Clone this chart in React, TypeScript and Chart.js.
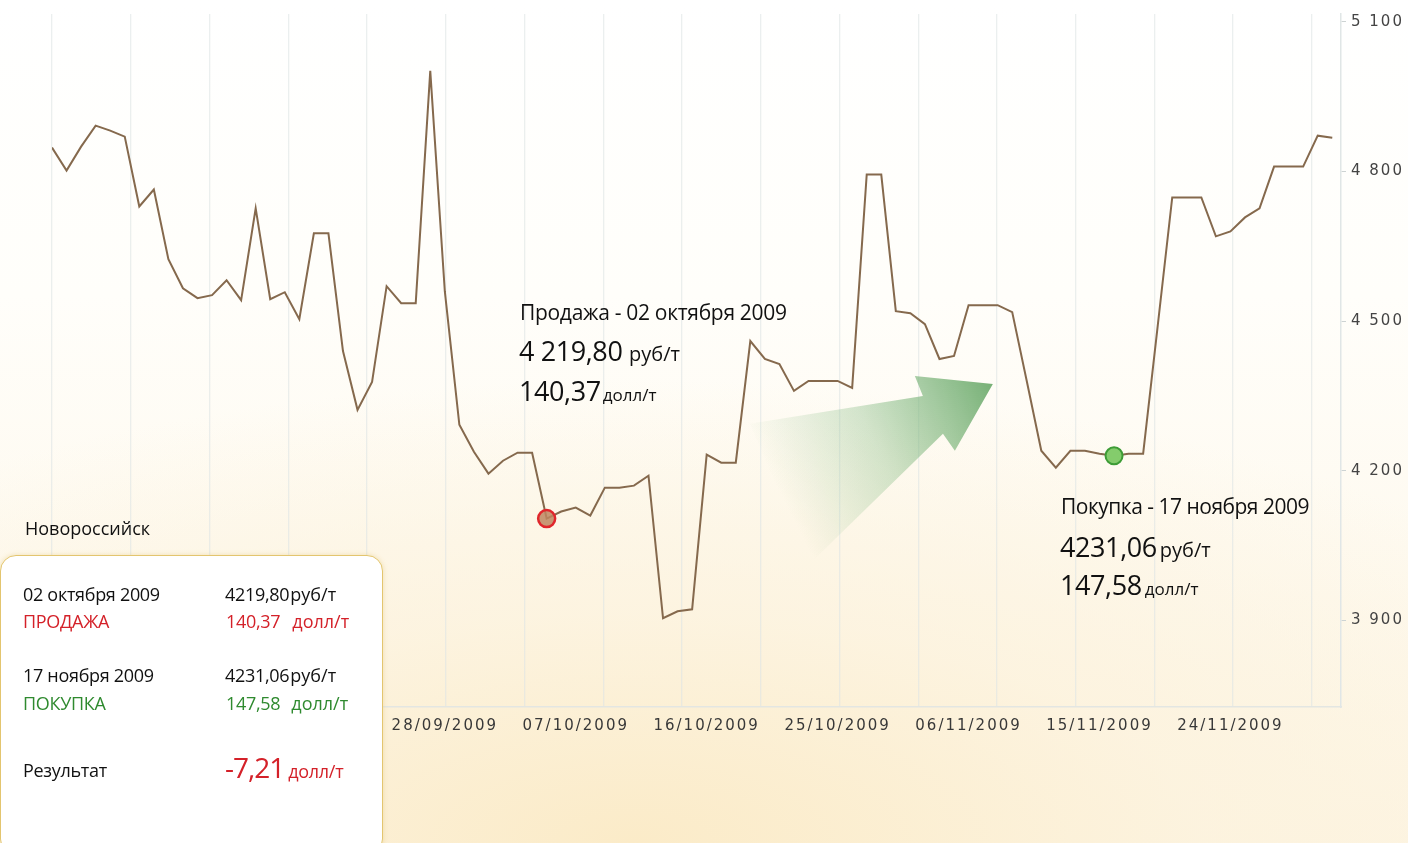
import React, { useEffect, useRef } from 'react';
import { Chart, registerables } from 'chart.js';

Chart.register(...registerables);

// Daily price series (руб/т), Novorossiysk
const PRICES: number[] = [
  4848, 4802, 4850, 4892, 4882, 4870, 4730, 4764, 4624, 4566,
  4546, 4552, 4582, 4542, 4726, 4544, 4558, 4504, 4676, 4676,
  4440, 4322, 4378, 4570, 4536, 4536, 5002, 4560, 4292, 4238,
  4194, 4220, 4236, 4236, 4104, 4118, 4126, 4110, 4166, 4166,
  4170, 4190, 3904, 3918, 3922, 4232, 4216, 4216, 4460, 4424,
  4414, 4360, 4380, 4380, 4380, 4366, 4794, 4794, 4520, 4516,
  4494, 4424, 4430, 4532, 4532, 4532, 4518, 4380, 4240, 4206,
  4240, 4240, 4234, 4230, 4234, 4234, 4490, 4748, 4748, 4748,
  4670, 4680, 4708, 4726, 4810, 4810, 4810, 4872, 4868,
];

const X_TICK_INDEX: number[] = [27, 36, 45, 54, 63, 72, 81];
const X_TICK_LABELS: string[] = [
  '28/09/2009', '07/10/2009', '16/10/2009', '25/10/2009', '06/11/2009', '15/11/2009', '24/11/2009',
];
const Y_TICKS: number[] = [3900, 4200, 4500, 4800, 5100];

const SELL_INDEX = 34;
const BUY_INDEX = 73;

// Axis extents
const X_MAX = 88.6;
const GRID_MAX = 16.37;
const Y_MIN = 3726;
const Y_MAX = 5116;

// Decorative arrow, in data units (index, price)
const ARROW: number[][] = [
  [64.67, 4374],
  [59.31, 4390],
  [59.86, 4350],
  [47.97, 4294],
  [52.1, 4014],
  [61.24, 4274],
  [62.06, 4240],
];

const W = 1408;
const H = 843;
const FONT = "'Open Sans', 'Noto Sans', sans-serif";
const RED = '#d42129';
const GREEN = '#2f8a2f';

const arrowPlugin = {
  id: 'arrowDeco',
  beforeDatasetsDraw(chart: any) {
    const { ctx, scales } = chart;
    const x = scales.x;
    const y = scales.y;
    const pts = ARROW.map(([i, v]) => [x.getPixelForValue(i), y.getPixelForValue(v)]);
    const tail = [(pts[3][0] + pts[4][0]) / 2, (pts[3][1] + pts[4][1]) / 2];
    const tip = pts[0];
    const g = ctx.createLinearGradient(tail[0], tail[1], tip[0], tip[1]);
    g.addColorStop(0, 'rgba(125,185,125,0)');
    g.addColorStop(0.45, 'rgba(120,180,120,0.32)');
    g.addColorStop(1, 'rgba(100,165,100,0.88)');
    ctx.save();
    ctx.beginPath();
    pts.forEach(([px, py], k) => (k ? ctx.lineTo(px, py) : ctx.moveTo(px, py)));
    ctx.closePath();
    ctx.fillStyle = g;
    ctx.fill();
    ctx.restore();
  },
};

const spacingPlugin = {
  id: 'letterSpacing',
  beforeDraw(chart: any) {
    (chart.ctx as any).letterSpacing = '2px';
  },
  afterDraw(chart: any) {
    (chart.ctx as any).letterSpacing = '0px';
  },
};

function T(props: {
  x: number;
  base: number;
  size: number;
  color?: string;
  ls?: number;
  children: React.ReactNode;
}) {
  const { x, base, size, color = '#111', ls = 0, children } = props;
  return (
    <div
      style={{
        position: 'absolute',
        left: x,
        top: base - 0.888 * size,
        fontSize: size,
        lineHeight: 1,
        color,
        letterSpacing: ls,
        whiteSpace: 'nowrap',
        fontFamily: FONT,
      }}
    >
      {children}
    </div>
  );
}

function S(props: { size: number; ml?: number; ls?: number; children: React.ReactNode }) {
  return (
    <span style={{ fontSize: props.size, marginLeft: props.ml ?? 0, letterSpacing: props.ls ?? 0 }}>
      {props.children}
    </span>
  );
}

export default function App() {
  const ref = useRef<HTMLCanvasElement | null>(null);

  useEffect(() => {
    document.body.style.margin = '0';
    const canvas = ref.current;
    if (!canvas) return;
    const fmt = (v: number) => String(v).replace(/\B(?=(\d{3})+(?!\d))/g, ' ');
    const chart = new Chart(canvas, {
      type: 'line',
      data: {
        datasets: [
          {
            data: PRICES.map((v, i) => ({ x: i, y: v })),
            borderColor: '#85694d',
            borderWidth: 2,
            pointRadius: 0,
            tension: 0,
            fill: false,
            order: 2,
          },
          {
            data: [{ x: SELL_INDEX, y: PRICES[SELL_INDEX] }],
            showLine: false,
            pointRadius: 8.5,
            pointBackgroundColor: 'rgba(190,134,96,0.85)',
            pointBorderColor: '#e0262c',
            pointBorderWidth: 2.5,
            order: 0,
          },
          {
            data: [{ x: BUY_INDEX, y: PRICES[BUY_INDEX] }],
            showLine: false,
            pointRadius: 8.5,
            pointBackgroundColor: '#84cc6c',
            pointBorderColor: '#3d9c36',
            pointBorderWidth: 2,
            order: 1,
          },
        ],
      },
      options: {
        animation: false,
        responsive: false,
        layout: { padding: { left: 52, top: 12, right: 0, bottom: 0 } },
        plugins: { legend: { display: false }, tooltip: { enabled: false } },
        scales: {
          x: {
            type: 'linear',
            position: 'bottom',
            min: 0,
            max: X_MAX,
            afterBuildTicks: (s: any) => {
              s.ticks = X_TICK_INDEX.map((v) => ({ value: v }));
            },
            afterFit: (s: any) => {
              s.height = H - 707;
            },
            ticks: {
              autoSkip: false,
              maxRotation: 0,
              padding: 10,
              color: '#383838',
              font: { family: 'DejaVu Sans', size: 15 },
              callback: (v: any) => {
                const k = X_TICK_INDEX.indexOf(Number(v));
                return k >= 0 ? X_TICK_LABELS[k] : '';
              },
            },
            grid: { display: false, drawTicks: false },
            border: { display: true, color: '#e3e6e2', width: 1.5 },
          },
          xg: {
            type: 'linear',
            position: 'bottom',
            min: 0,
            max: GRID_MAX,
            afterFit: (s: any) => {
              s.height = 0;
            },
            ticks: { display: false, stepSize: 1, includeBounds: false },
            grid: { color: 'rgba(222,229,229,0.6)', lineWidth: 1.3, drawTicks: false },
            border: { display: false },
          },
          y: {
            type: 'linear',
            position: 'right',
            min: Y_MIN,
            max: Y_MAX,
            afterBuildTicks: (s: any) => {
              s.ticks = Y_TICKS.map((v) => ({ value: v }));
            },
            afterFit: (s: any) => {
              s.width = W - 1341;
            },
            ticks: {
              padding: 5,
              color: '#444',
              font: { family: 'DejaVu Sans', size: 15 },
              callback: (v: any) => fmt(Number(v)),
            },
            grid: { drawOnChartArea: false, drawTicks: true, tickLength: 5, color: '#cdd3d3' },
            border: { display: true, color: '#e0e6e6', width: 1.5 },
          },
        },
      } as any,
      plugins: [arrowPlugin, spacingPlugin],
    });
    return () => chart.destroy();
  }, []);

  return (
    <div
      style={{
        position: 'fixed',
        left: 0,
        top: 0,
        width: W,
        height: H,
        overflow: 'hidden',
        background:
          'radial-gradient(ellipse 80% 55% at 45% 100%, rgba(251,235,200,1) 0%, rgba(252,242,220,0.75) 50%, rgba(255,255,255,0) 100%), linear-gradient(#ffffff 0%, #fffefa 35%, #fdf5e4 100%)',
        fontFamily: FONT,
      }}
    >
      <canvas ref={ref} width={W} height={H} style={{ position: 'absolute', left: 0, top: 0, width: W, height: H }} />

      {/* Sell annotation */}
      <T x={520} base={321} size={21} ls={-0.3}>Продажа - 02 октября 2009</T>
      <T x={519} base={361} size={27} ls={-0.4}>
        4 219,80 <S size={20}>руб/т</S>
      </T>
      <T x={519} base={401} size={27} ls={-0.4}>
        140,37<S size={17} ml={2}>долл/т</S>
      </T>

      {/* Buy annotation */}
      <T x={1061} base={515} size={21} ls={-0.5}>Покупка - 17 ноября 2009</T>
      <T x={1060} base={557} size={27} ls={-0.4}>
        4231,06<S size={20} ml={3}>руб/т</S>
      </T>
      <T x={1060} base={595} size={27} ls={-0.4}>
        147,58<S size={17} ml={3}>долл/т</S>
      </T>

      {/* Info box */}
      <T x={25} base={535} size={18}>Новороссийск</T>
      <div
        style={{
          position: 'absolute',
          left: 0,
          top: 555,
          width: 383,
          height: 300,
          boxSizing: 'border-box',
          background: '#ffffff',
          border: '1.5px solid #e3c56f',
          borderRadius: 16,
          boxShadow: '0 0 5px rgba(225,195,110,0.45)',
        }}
      />
      <T x={23} base={601} size={18} ls={-0.3}>02 октября 2009</T>
      <T x={23} base={628} size={18} ls={-0.3} color={RED}>ПРОДАЖА</T>
      <T x={225} base={601} size={18} ls={-0.3}>
        4219,80<S size={18} ml={1}>руб/т</S>
      </T>
      <T x={226} base={628} size={18} ls={-0.3} color={RED}>
        140,37<S size={18} ml={12}>долл/т</S>
      </T>

      <T x={23} base={682} size={18} ls={-0.3}>17 ноября 2009</T>
      <T x={23} base={710} size={18} ls={-0.3} color={GREEN}>ПОКУПКА</T>
      <T x={225} base={682} size={18} ls={-0.3}>
        4231,06<S size={18} ml={1}>руб/т</S>
      </T>
      <T x={226} base={710} size={18} ls={-0.3} color={GREEN}>
        147,58<S size={18} ml={11}>долл/т</S>
      </T>

      <T x={23} base={777} size={18} ls={-0.3}>Результат</T>
      <T x={225} base={778} size={28} ls={-1} color={RED}>
        -7,21<S size={18} ml={4} ls={-0.3}>долл/т</S>
      </T>
    </div>
  );
}
